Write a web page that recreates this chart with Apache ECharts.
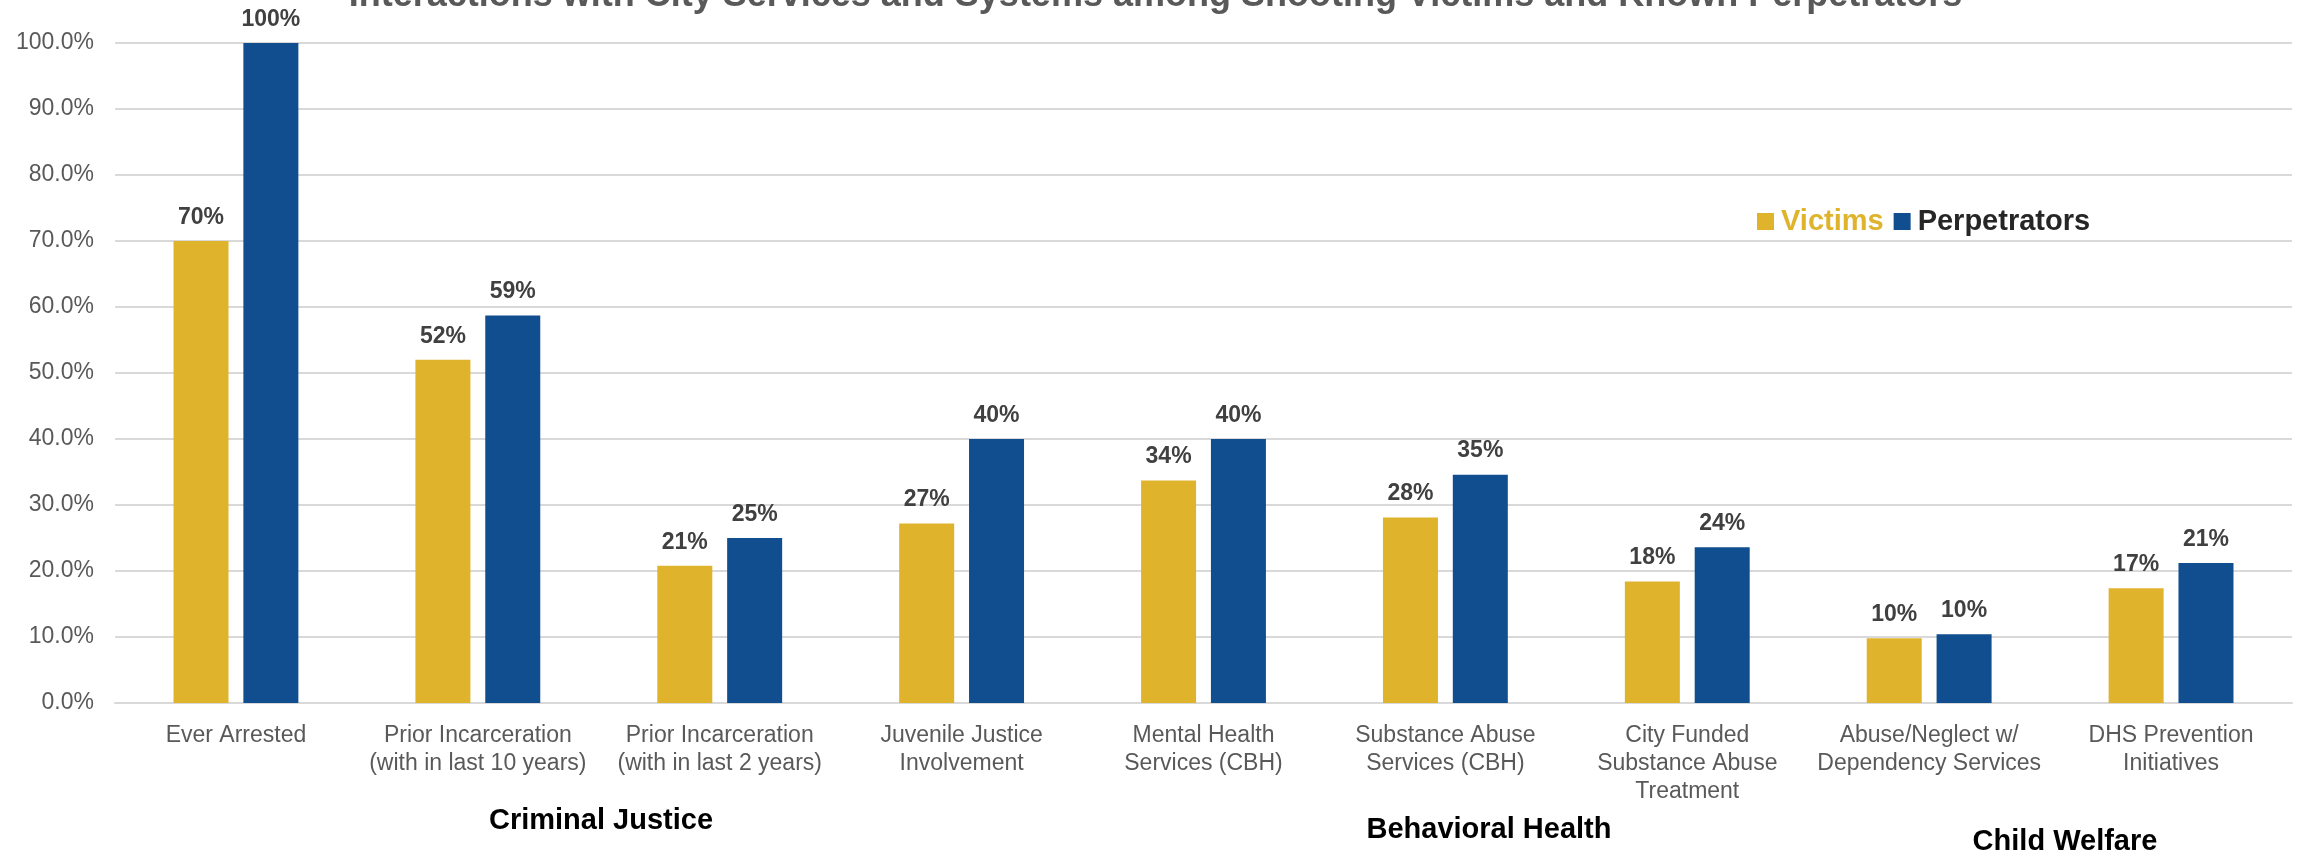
<!DOCTYPE html>
<html lang="en">
<head>
    <meta charset="UTF-8">
    <title>Interactions with City Services</title>
    <script src="https://cdn.jsdelivr.net/npm/echarts@6/dist/echarts.min.js"></script>
    <style>
        html, body { margin: 0; padding: 0; background: #fff; }
        #charts { width: 2311px; height: 857px; }
    </style>
</head>
<body>
<div id="charts"></div>

<script>
    // chart data
    var categories = [
        'Ever Arrested',
        'Prior Incarceration\n(with in last 10 years)',
        'Prior Incarceration\n(with in last 2 years)',
        'Juvenile Justice\nInvolvement',
        'Mental Health\nServices (CBH)',
        'Substance Abuse\nServices (CBH)',
        'City Funded\nSubstance Abuse\nTreatment',
        'Abuse/Neglect w/\nDependency Services',
        'DHS Prevention\nInitiatives'
    ];
    var victims = [70, 52, 20.8, 27.2, 33.7, 28.1, 18.4, 9.8, 17.4];
    var perpetrators = [100, 58.7, 25, 40, 40, 34.6, 23.6, 10.4, 21.2];
    var groupLabels = ['Criminal Justice', 'Behavioral Health', 'Child Welfare'];

    var gold = '#DFB42C';
    var blue = '#104E8F';
    var font = '"Liberation Sans", Arial, sans-serif';

    var myChart = echarts.init(document.getElementById('charts'));

    function valueLabel() {
        return {
            show: true,
            position: 'top',
            distance: 12,
            fontFamily: font,
            fontSize: 23,
            fontWeight: 'bold',
            color: '#404040',
            formatter: function (p) { return Math.round(p.value) + '%'; }
        };
    }

    function groupText(i, x, y) {
        return {
            type: 'text', x: x, y: y,
            style: { text: groupLabels[i], font: 'bold 29px ' + font, fill: '#000', align: 'center', verticalAlign: 'middle' }
        };
    }

    var option = {
        backgroundColor: '#fff',
        animation: false,
        title: {
            text: 'Interactions with City Services and Systems among Shooting Victims and Known Perpetrators',
            left: 'center',
            top: -27,
            textStyle: {
                fontFamily: font,
                fontSize: 36,
                fontWeight: 'bold',
                color: '#595959'
            }
        },
        legend: {
            left: 1752,
            top: 202,
            itemWidth: 17,
            itemHeight: 17,
            itemGap: 10,
            icon: 'rect',
            textStyle: { fontFamily: font, fontSize: 29, fontWeight: 'bold', padding: [0, 0, 0, 2] },
            data: [
                { name: 'Victims', textStyle: { color: gold } },
                { name: 'Perpetrators', textStyle: { color: '#262626' } }
            ]
        },
        grid: { left: 115, right: 19, top: 43, bottom: 154 },
        xAxis: {
            type: 'category',
            data: categories,
            axisLine: { lineStyle: { color: '#d9d9d9', width: 2 } },
            axisTick: { show: false },
            axisLabel: {
                interval: 0,
                margin: 19,
                fontFamily: font,
                fontSize: 23,
                lineHeight: 28,
                color: '#595959'
            }
        },
        yAxis: {
            type: 'value',
            min: 0,
            max: 100,
            interval: 10,
            axisLine: { show: false },
            axisTick: { show: false },
            splitLine: { lineStyle: { color: '#d9d9d9', width: 2 } },
            axisLabel: {
                margin: 21,
                fontFamily: font,
                fontSize: 23,
                color: '#595959',
                formatter: function (v) { return v.toFixed(1) + '%'; }
            }
        },
        series: [
            {
                name: 'Victims',
                type: 'bar',
                data: victims,
                barWidth: 55,
                barGap: '27%',
                itemStyle: { color: gold },
                label: valueLabel()
            },
            {
                name: 'Perpetrators',
                type: 'bar',
                data: perpetrators,
                barWidth: 55,
                itemStyle: { color: blue },
                label: valueLabel()
            }
        ],
        graphic: [
            groupText(0, 601, 821),
            groupText(1, 1489, 830),
            groupText(2, 2065, 842)
        ]
    };

    myChart.setOption(option);
</script>
</body>
</html>
